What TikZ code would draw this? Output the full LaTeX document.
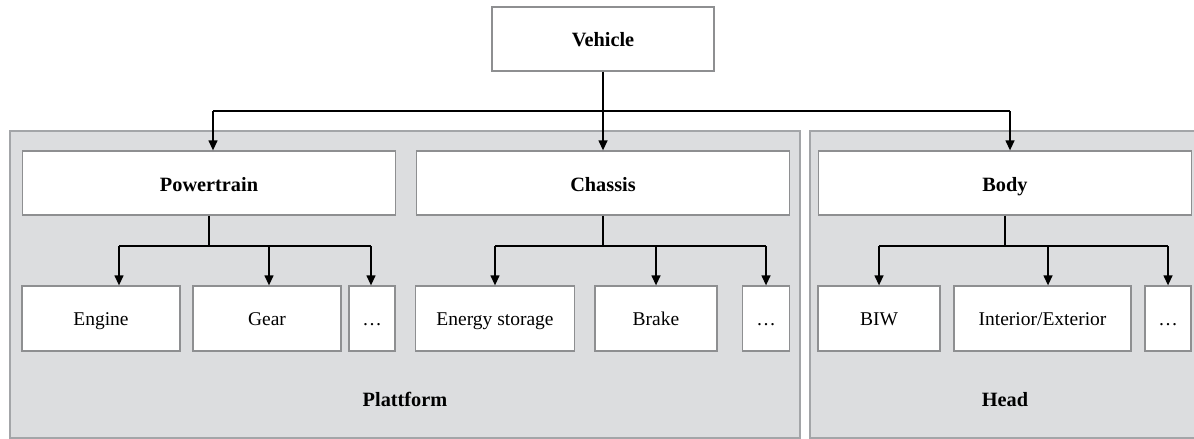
\documentclass[tikz,border=0pt]{standalone}
\usepackage{fontspec}
\setmainfont{Liberation Serif}
\usetikzlibrary{arrows.meta,calc}
\definecolor{regfill}{HTML}{DCDDDF}
\definecolor{regline}{HTML}{A3A5A8}
\definecolor{boxline}{HTML}{8E8F91}
\begin{document}
\begin{tikzpicture}[x=1pt,y=-1pt,
  region/.style={draw=regline,fill=regfill,line width=1.4pt,inner sep=0pt},
  box/.style={draw=boxline,fill=white,line width=1.3pt,inner sep=0pt,
    font=\fontsize{19.5}{23}\selectfont},
  bigbox/.style={box,font=\fontsize{20.3}{24}\selectfont\bfseries,
    minimum height=64pt,text height=17.4pt,text depth=0pt},
  smallbox/.style={box,minimum height=65pt,text height=14.4pt,text depth=0pt},
  lbl/.style={font=\fontsize{20.3}{24}\selectfont\bfseries,inner sep=0pt,
    anchor=base},
  conn/.style={draw=black,line width=1.3pt},
  arr/.style={conn,-{Triangle[length=10pt,width=9pt]}}]
\useasboundingbox (0,0) rectangle (1194,439);
% regions
\node[region,minimum width=790pt,minimum height=307pt] (plat) at (405,284.5) {};
\node[region,minimum width=394pt,minimum height=307pt] (head) at (1007,284.5) {};
\node[lbl] (platl) at (405,406.7) {Plattform};
\node[lbl] (headl) at (1005,406.7) {Head};
% top
\node[bigbox,minimum width=222pt,text height=15.5pt] (veh) at (603,39) {Vehicle};
% level 1
\node[bigbox,minimum width=373pt] (pt) at (209,183) {Powertrain};
\node[bigbox,minimum width=373.5pt] (ch) at (603,183) {Chassis};
\node[bigbox,minimum width=373pt] (bo) at (1005,183) {Body};
% level 2
\node[smallbox,minimum width=158pt] (eng) at (101,318.5) {Engine};
\node[smallbox,minimum width=148pt] (gear) at (267,318.5) {Gear};
\node[smallbox,minimum width=46pt] (d1) at (372,318.5) {\dots};
\node[smallbox,minimum width=158.5pt] (es) at (495,318.5) {Energy storage};
\node[smallbox,minimum width=122pt] (br) at (656,318.5) {Brake};
\node[smallbox,minimum width=46.5pt] (d2) at (766,318.5) {\dots};
\node[smallbox,minimum width=122pt] (biw) at (879,318.5) {BIW};
\node[smallbox,minimum width=177pt] (ie) at (1042.5,318.5) {Interior/Exterior};
\node[smallbox,minimum width=46pt] (d3) at (1168,318.5) {\dots};
% junction coordinates
\coordinate (vl) at (213,111);
\coordinate (vr) at (1010,111);
\coordinate (pl) at (119,246);
\coordinate (pm) at (269,246);
\coordinate (pr) at (371,246);
\coordinate (cl) at (495,246);
\coordinate (cr) at (766,246);
\coordinate (bl) at (879,246);
\coordinate (bm) at (1048,246);
\coordinate (br2) at (1168,246);
% vehicle connectors
\draw[conn] (veh.south) -- (veh.south |- vl);
\draw[conn] (vl) -- (vr);
\draw[arr] (vl) -- (pt.north -| vl);
\draw[arr] (veh.south |- vl) -- (ch.north -| veh.south);
\draw[arr] (vr) -- (bo.north -| vr);
% powertrain
\draw[conn] (pt.south) -- (pt.south |- pl);
\draw[conn] (pl) -- (pr);
\draw[arr] (pl) -- (eng.north -| pl);
\draw[arr] (pm) -- (gear.north -| pm);
\draw[arr] (pr) -- (d1.north -| pr);
% chassis
\draw[conn] (ch.south) -- (ch.south |- cl);
\draw[conn] (cl) -- (cr);
\draw[arr] (cl) -- (es.north -| cl);
\draw[arr] (br.north |- cl) -- (br.north);
\draw[arr] (cr) -- (d2.north -| cr);
% body
\draw[conn] (bo.south) -- (bo.south |- bl);
\draw[conn] (bl) -- (br2);
\draw[arr] (bl) -- (biw.north -| bl);
\draw[arr] (bm) -- (ie.north -| bm);
\draw[arr] (br2) -- (d3.north -| br2);
\end{tikzpicture}
\end{document}
